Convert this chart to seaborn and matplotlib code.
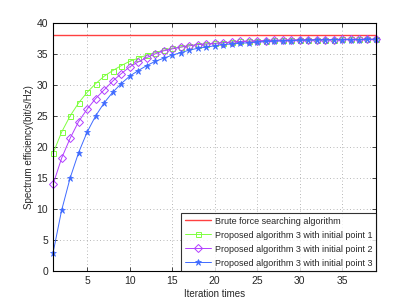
import numpy as np
import pandas as pd
import matplotlib
matplotlib.use('Agg')
import matplotlib.pyplot as plt
import seaborn as sns

iterations = list(range(1, 40))
brute_force = 38.0

point1 = [19.0, 22.4, 25.0, 27.1, 28.8, 30.2, 31.4, 32.3, 33.1, 33.8,
          34.3, 34.8, 35.2, 35.6, 35.9, 36.1, 36.3, 36.5, 36.6, 36.7,
          36.8, 36.9, 37.0, 37.05, 37.1, 37.15, 37.2, 37.2, 37.25, 37.25,
          37.3, 37.3, 37.3, 37.3, 37.35, 37.35, 37.35, 37.35, 37.35]
point2 = [14.0, 18.2, 21.4, 24.1, 26.1, 27.8, 29.2, 30.6, 31.8, 32.9,
          33.7, 34.4, 35.0, 35.5, 35.8, 36.1, 36.3, 36.5, 36.6, 36.7,
          36.8, 36.9, 37.0, 37.05, 37.1, 37.15, 37.2, 37.2, 37.25, 37.25,
          37.3, 37.3, 37.3, 37.3, 37.35, 37.35, 37.35, 37.35, 37.35]
point3 = [3.0, 9.8, 15.0, 19.1, 22.4, 25.0, 27.1, 28.8, 30.2, 31.4,
          32.3, 33.1, 33.8, 34.3, 34.8, 35.2, 35.6, 35.9, 36.1, 36.3,
          36.5, 36.6, 36.7, 36.8, 36.9, 37.0, 37.05, 37.1, 37.15, 37.2,
          37.2, 37.25, 37.25, 37.3, 37.3, 37.3, 37.3, 37.35, 37.35]

labels = ['Brute force searching algorithm',
          'Proposed algorithm 3 with initial point 1',
          'Proposed algorithm 3 with initial point 2',
          'Proposed algorithm 3 with initial point 3']

sns.set_style('ticks')
plt.rcParams['font.family'] = ['Liberation Sans', 'DejaVu Sans']
plt.rcParams['font.size'] = 7

fig = plt.figure(figsize=(4.15, 3.05), dpi=100)
ax = fig.add_axes([0.128, 0.111, 0.778, 0.814])

ax.axhline(brute_force, color='#ff4040', lw=1.0, label=labels[0])

sns.lineplot(x=iterations, y=point1, ax=ax, color='#7fff3f', lw=0.7,
             marker='s', markersize=3.6, markerfacecolor='none',
             markeredgecolor='#7fff3f', markeredgewidth=0.7, label=labels[1],
             clip_on=False)
sns.lineplot(x=iterations, y=point2, ax=ax, color='#b23fff', lw=0.7,
             marker='D', markersize=3.6, markerfacecolor='none',
             markeredgecolor='#b23fff', markeredgewidth=0.7, label=labels[2],
             clip_on=False)
sns.lineplot(x=iterations, y=point3, ax=ax, color='#3f6bff', lw=0.7,
             marker='*', markersize=4.5, markerfacecolor='#3f6bff',
             markeredgecolor='#3f6bff', markeredgewidth=0.5, label=labels[3],
             clip_on=False)

ax.set_xlim(1, 39)
ax.set_ylim(0, 40)
ax.set_xticks([5, 10, 15, 20, 25, 30, 35])
ax.set_yticks(range(0, 41, 5))
ax.grid(True, linestyle=(0, (1, 3)), color='#a0a0a0', lw=0.6)
ax.tick_params(direction='in', length=3, width=0.6, labelsize=7.5, top=True, right=True)
for s in ax.spines.values():
    s.set_visible(True)
    s.set_linewidth(0.8)
    s.set_color('black')

ax.set_xlabel('Iteration times', fontsize=7, labelpad=2)
ax.set_ylabel('Spectrum efficiency(bit/s/Hz)', fontsize=7, labelpad=2)

leg = ax.legend(loc='lower right', fontsize=6.5, frameon=True, fancybox=False,
                borderaxespad=0, handlelength=2.9, labelspacing=0.55,
                borderpad=0.4, handletextpad=0.4)
leg.get_frame().set_edgecolor('black')
leg.get_frame().set_linewidth(0.8)
leg.set_zorder(5)

fig.savefig('out.png', dpi=100)
